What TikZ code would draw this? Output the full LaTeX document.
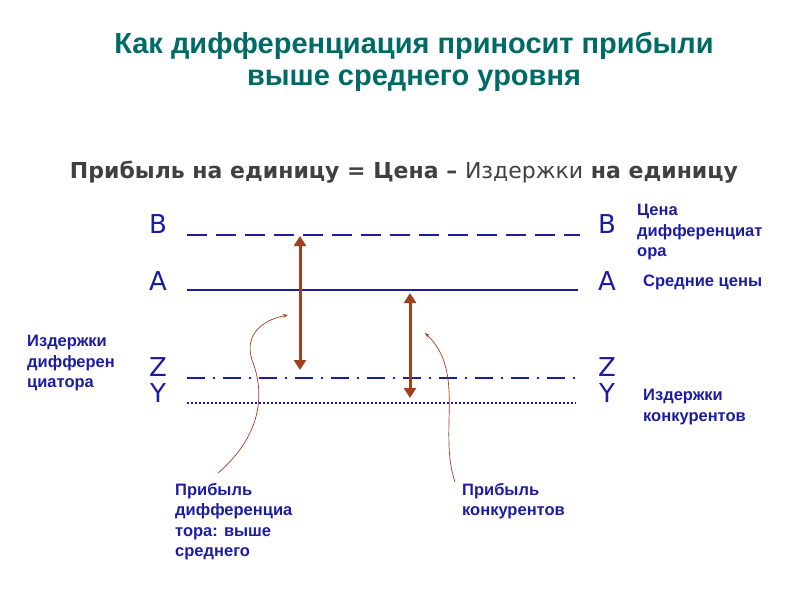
\documentclass[tikz,border=0pt]{standalone}
\usepackage{fontspec}
\setmainfont{Liberation Sans}
\newfontfamily\wideface{DejaVu Sans}
\usetikzlibrary{arrows.meta}
\definecolor{titleteal}{HTML}{006A66}
\definecolor{lineblue}{HTML}{1C1CA0}
\definecolor{arrowbrown}{HTML}{A0401C}
\begin{document}
\begin{tikzpicture}[x=1pt, y=-1pt,
                    letter/.style={font=\wideface\fontsize{26}{26}\selectfont, text=lineblue, inner sep=0pt},
                    label/.style={font=\bfseries\fontsize{16.5}{20.5}\selectfont, text=lineblue, align=left, anchor=north west, inner sep=0pt},
                    level/.style={draw=lineblue, line width=2pt},
                    gap/.style={draw=arrowbrown, line width=3pt, {Triangle[length=10pt,width=12pt]}-{Triangle[length=10pt,width=12pt]}},
                    pointer/.style={draw=arrowbrown, line width=0.7pt, -{Stealth[length=5pt]}}]
    \useasboundingbox (0,0) rectangle (800,600);

    % Title
    \node[font=\bfseries\fontsize{29}{32}\selectfont, text=titleteal, align=center] (title) at (414,62)
        {Как дифференциация приносит прибыли\\выше среднего уровня};
    \node[font=\wideface\bfseries\fontsize{22}{22}\selectfont, text=black!75] (formula) at (404,172)
        {Прибыль на единицу = Цена – {\mdseries Издержки} на единицу};

    % Level letters
    \node[letter] (Bl) at (158,224) {B};
    \node[letter] (Br) at (607,224) {B};
    \node[letter] (Al) at (158,281) {A};
    \node[letter] (Ar) at (607,281) {A};
    \node[letter] (Zl) at (158,367) {Z};
    \node[letter] (Zr) at (607,367) {Z};
    \node[letter] (Yl) at (158,393) {Y};
    \node[letter] (Yr) at (607,393) {Y};

    % Level lines
    \coordinate (B1) at (187,235); \coordinate (B2) at (580,235);
    \coordinate (A1) at (187,290); \coordinate (A2) at (578,290);
    \coordinate (Z1) at (187,378); \coordinate (Z2) at (580,378);
    \coordinate (Y1) at (187,403); \coordinate (Y2) at (576,403);
    \draw[level, dash pattern=on 20pt off 9pt] (B1) -- (B2);
    \draw[level] (A1) -- (A2);
    \draw[level, dash pattern=on 18pt off 8pt on 2pt off 8pt] (Z1) -- (Z2);
    \draw[level, line width=1.5pt, dash pattern=on 1.5pt off 2.5pt] (Y1) -- (Y2);

    % Profit gaps
    \coordinate (g1t) at (300,236); \coordinate (g1b) at (300,370);
    \coordinate (g2t) at (410,293); \coordinate (g2b) at (410,398);
    \draw[gap] (g1t) -- (g1b);
    \draw[gap] (g2t) -- (g2b);

    % Side labels
    \node[label] (costdiff) at (27,335) {Издержки\\дифферен\\циатора};
    \node[label] (pricediff) at (637,204) {Цена\\дифференциат\\ора};
    \node[label] (avgprice) at (643,275) {Средние цены};
    \node[label] (costcomp) at (643,389) {Издержки\\конкурентов};

    % Bottom labels
    \node[label] (profdiff) at (175,483) {Прибыль\\дифференциа\\тора: выше\\среднего};
    \node[label] (profcomp) at (462,483) {Прибыль\\конкурентов};

    % Pointers
    \coordinate (p1) at (218,473); \coordinate (q1) at (288,315);
    \coordinate (p2) at (455,482); \coordinate (q2) at (425,333);
    \draw[pointer] (p1) .. controls (268,430) and (262,385) .. (252,360)
                        .. controls (244,335) and (262,320) .. (q1);
    \draw[pointer] (p2) .. controls (438,432) and (466,372) .. (q2);
\end{tikzpicture}
\end{document}
